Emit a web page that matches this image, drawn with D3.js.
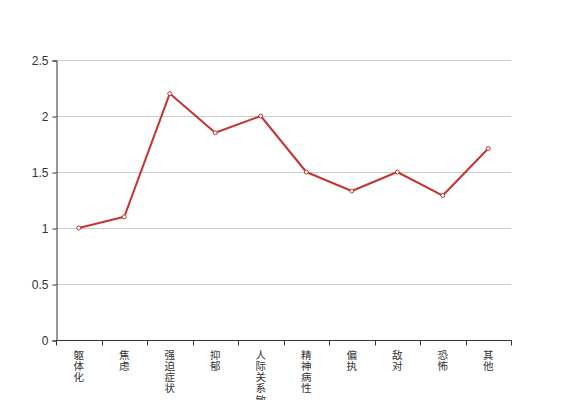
<!DOCTYPE html>
<html lang="zh">
<head>
<meta charset="UTF-8" />
<script src="https://d3js.org/d3.v7.min.js"></script>
<style>
  body { margin: 0; background: #fff; }
  text { font-family: "Noto Sans CJK SC", "DejaVu Sans", sans-serif; }
</style>
</head>
<body>
<script>
  // data
  var categories = ["躯体化", "焦虑", "强迫症状", "抑郁", "人际关系敏感", "精神病性", "偏执", "敌对", "恐怖", "其他"];
  var values = [1.0, 1.1, 2.2, 1.85, 2.0, 1.5, 1.33, 1.5, 1.29, 1.71];
  var yTicks = [0, 0.5, 1, 1.5, 2, 2.5];

  var w = 567, h = 400;
  var padL = 56, padR = 511, padT = 60, padB = 340;

  var svg = d3.select("body").append("svg")
      .attr("width", w)
      .attr("height", h);

  var x = d3.scaleBand().domain(categories).range([padL, padR]);
  var y = d3.scaleLinear().domain([0, 2.5]).range([padB, padT]);

  // grid lines
  svg.append("g")
    .selectAll("line")
    .data(yTicks.slice(1))
    .enter().append("line")
    .attr("x1", padL).attr("x2", padR)
    .attr("y1", function (d) { return y(d) + 0.5; })
    .attr("y2", function (d) { return y(d) + 0.5; })
    .style("stroke", "#ccc");

  // y axis
  var yAxis = svg.append("g")
    .attr("transform", "translate(" + (padL + 0.5) + ",0.5)")
    .call(d3.axisLeft(y).tickValues(yTicks).tickSize(4).tickPadding(4).tickFormat(function (d) { return d; }));
  yAxis.select(".domain").attr("stroke", "#333");
  yAxis.selectAll(".tick line").attr("stroke", "#333");
  yAxis.selectAll("text").attr("fill", "#333").style("font-size", "12px")
    .style("font-family", "'Liberation Sans', Arial, sans-serif");

  // x axis
  var xAxis = svg.append("g")
    .attr("transform", "translate(0," + (padB + 0.5) + ")");
  xAxis.append("line")
    .attr("x1", padL).attr("x2", padR + 0.5)
    .attr("stroke", "#333");
  xAxis.selectAll("line.tk")
    .data(categories.concat(["_end"]))
    .enter().append("line")
    .attr("class", "tk")
    .attr("x1", function (d, i) { return Math.round(padL + i * x.bandwidth()) + 0.5; })
    .attr("x2", function (d, i) { return Math.round(padL + i * x.bandwidth()) + 0.5; })
    .attr("y1", 0).attr("y2", 5)
    .attr("stroke", "#333");

  // vertical category labels, one character per line
  var lab = xAxis.selectAll("text.cat")
    .data(categories)
    .enter().append("text")
    .attr("class", "cat")
    .attr("text-anchor", "middle")
    .attr("fill", "#333")
    .style("font-size", "10.5px")
    .attr("x", function (d) { return x(d) + x.bandwidth() / 2; });
  lab.selectAll("tspan")
    .data(function (d) { return d.split(""); })
    .enter().append("tspan")
    .attr("x", function () { return d3.select(this.parentNode).attr("x"); })
    .attr("y", function (c, i) { return 18 + i * 11.3; })
    .text(function (c) { return c; });

  // line
  var line = d3.line()
    .x(function (d, i) { return x(categories[i]) + x.bandwidth() / 2; })
    .y(function (d) { return y(d); });

  svg.append("path")
    .datum(values)
    .attr("d", line)
    .attr("fill", "none")
    .attr("stroke", "#c23531")
    .attr("stroke-width", 2)
    .attr("stroke-linejoin", "round");

  svg.selectAll("circle.pt")
    .data(values)
    .enter().append("circle")
    .attr("class", "pt")
    .attr("cx", function (d, i) { return x(categories[i]) + x.bandwidth() / 2; })
    .attr("cy", function (d) { return y(d); })
    .attr("r", 2)
    .attr("fill", "#fff")
    .attr("stroke", "#c23531")
    .attr("stroke-width", 1);
</script>
</body>
</html>
